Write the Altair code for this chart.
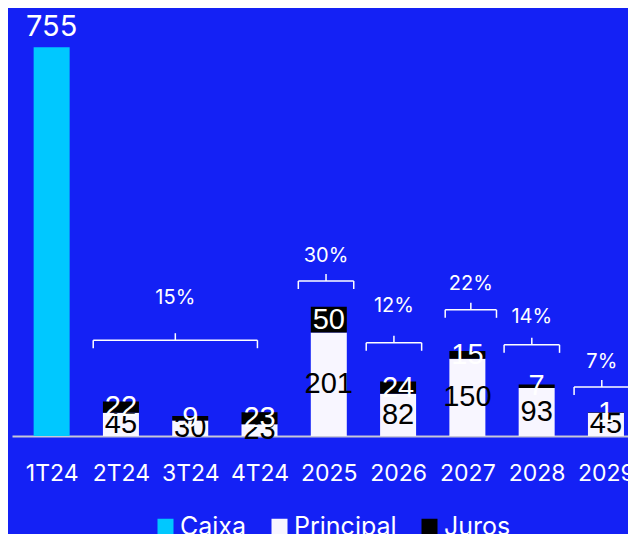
import json
import altair as alt
import pandas as pd

categories = ['1T24', '2T24', '3T24', '4T24', '2025', '2026', '2027', '2028', '2029']
caixa = [755, None, None, None, None, None, None, None, None]
principal = [None, 45, 30, 23, 201, 82, 150, 93, 45]
juros = [None, 22, 9, 23, 50, 24, 15, 7, 1]

bracket_labels = ['15%', '30%', '12%', '22%', '14%', '7%']
bracket_start = [0.6, 3.56, 4.54, 5.68, 6.53, 7.54]
bracket_end = [2.97, 4.36, 5.34, 6.42, 7.33, 8.34]
bracket_level = [186, 301, 181, 245, 177, 95]
bracket_text_level = [268, 349, 252, 295, 231, 144]

series_names = ['Caixa', 'Principal', 'Juros']
series_colors = ['#00C8FF', '#F8F6FF', '#000000']
BG = '#1421F5'
UI_FONT = 'Inter'
NUM_FONT = 'Liberation Sans'

rows = []
for i, c in enumerate(categories):
    for order, (name, vals) in enumerate(zip(series_names, [caixa, principal, juros])):
        v = vals[i]
        if v is not None:
            rows.append({'i': i, 'cat': c, 'series': name, 'value': v, 'ord': order})
df = pd.DataFrame(rows)

br = pd.DataFrame({
    'label': bracket_labels,
    'x0': bracket_start,
    'x1': bracket_end,
    'lvl': bracket_level,
    'tlvl': bracket_text_level,
})
br['xm'] = (br['x0'] + br['x1']) / 2

xscale = alt.Scale(domain=[-0.5, 8.246], nice=False, zero=False)
yscale = alt.Scale(domain=[0, 800], nice=False)

label_expr = json.dumps(categories) + '[datum.value]'

base = alt.Chart(df).transform_stack(
    stack='value', groupby=['i'], as_=['v0', 'v1'], sort=[alt.SortField('ord')]
).transform_calculate(mid='(datum.v0 + datum.v1) / 2')

bars = base.mark_bar(width=36).encode(
    x=alt.X('i:Q', scale=xscale,
            axis=alt.Axis(values=list(range(len(categories))), labelExpr=label_expr,
                          title=None, grid=False, ticks=False, domainColor='#c8c8d8',
                          domainWidth=2, labelColor='white', labelFont=UI_FONT,
                          labelFontSize=23, labelBaseline='middle', labelPadding=37,
                          labelOverlap=False, labelFlush=False)),
    y=alt.Y('v0:Q', scale=yscale, axis=None),
    y2='v1:Q',
    color=alt.Color('series:N', scale=alt.Scale(domain=series_names, range=series_colors),
                    legend=alt.Legend(title=None, orient='none', legendX=141, legendY=490,
                                      direction='horizontal', symbolType='square',
                                      symbolSize=256, symbolStrokeWidth=0,
                                      labelFont=UI_FONT, labelFontSize=25, labelColor='white',
                                      labelOffset=2, columnPadding=20, labelLimit=300)),
)

principal_text = base.transform_filter(alt.datum.series == 'Principal').mark_text(
    font=NUM_FONT, fontSize=29, color='black', baseline='middle'
).encode(x='i:Q', y=alt.Y('mid:Q', scale=yscale), text='value:Q')

juros_text = base.transform_filter(alt.datum.series == 'Juros').mark_text(
    font=NUM_FONT, fontSize=29, color='white', baseline='middle'
).encode(x='i:Q', y=alt.Y('mid:Q', scale=yscale), text='value:Q')

caixa_text = base.transform_filter(alt.datum.series == 'Caixa').mark_text(
    font=UI_FONT, fontSize=29, color='white', baseline='bottom', dy=-5
).encode(x='i:Q', y=alt.Y('v1:Q', scale=yscale), text='value:Q')

bc = alt.Chart(br)
hline = bc.mark_rule(color='white', strokeWidth=1.5).encode(
    x=alt.X('x0:Q', scale=xscale), x2='x1:Q', y=alt.Y('lvl:Q', scale=yscale))
lhook = bc.mark_rule(color='white', strokeWidth=1.5, y2Offset=8).encode(
    x=alt.X('x0:Q', scale=xscale), y=alt.Y('lvl:Q', scale=yscale), y2='lvl:Q')
rhook = bc.mark_rule(color='white', strokeWidth=1.5, y2Offset=8).encode(
    x=alt.X('x1:Q', scale=xscale), y=alt.Y('lvl:Q', scale=yscale), y2='lvl:Q')
mtip = bc.mark_rule(color='white', strokeWidth=1.5, y2Offset=-7).encode(
    x=alt.X('xm:Q', scale=xscale), y=alt.Y('lvl:Q', scale=yscale), y2='lvl:Q')
ptext = bc.mark_text(font=UI_FONT, fontSize=20, color='white', baseline='middle').encode(
    x=alt.X('xm:Q', scale=xscale), y=alt.Y('tlvl:Q', scale=yscale), text='label:N')

chart = alt.layer(
    bars, principal_text, juros_text, caixa_text, hline, lhook, rhook, mtip, ptext
).properties(
    width=616, height=412,
    background=BG,
    autosize=alt.AutoSizeParams(type='none'),
    padding={'left': 4, 'top': 16, 'right': 0, 'bottom': 98},
).configure_view(stroke=None)

chart.save("out.html", embed_options={"renderer": "svg", "actions": False})
